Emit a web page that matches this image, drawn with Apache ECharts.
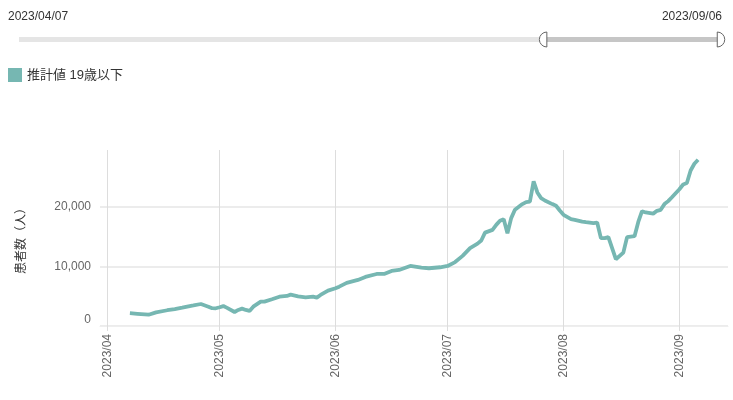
<!DOCTYPE html>
<html>
<head>
<meta charset="utf-8">
<script src="https://cdn.jsdelivr.net/npm/echarts@6/dist/echarts.min.js"></script>
<style>html,body{margin:0;padding:0;background:#fff;}#c{width:733px;height:400px;}</style>
</head>
<body>
<div id="c"></div>
<script>
const seriesName = '推計値 19歳以下';
const yAxisName = '患者数（人）';
const dates = [
  '2023-04-07','2023-04-09','2023-04-11','2023-04-12','2023-04-14','2023-04-17','2023-04-19','2023-04-21','2023-04-23','2023-04-24',
  '2023-04-26','2023-04-28','2023-04-29','2023-04-30','2023-05-01','2023-05-02','2023-05-03','2023-05-05','2023-05-06','2023-05-07',
  '2023-05-08','2023-05-09','2023-05-10','2023-05-12','2023-05-13','2023-05-15','2023-05-17','2023-05-19','2023-05-20','2023-05-22',
  '2023-05-24','2023-05-26','2023-05-27','2023-05-28','2023-05-30','2023-06-01','2023-06-02','2023-06-04','2023-06-07','2023-06-09',
  '2023-06-12','2023-06-14','2023-06-16','2023-06-18','2023-06-21','2023-06-24','2023-06-26','2023-06-29','2023-07-01','2023-07-03',
  '2023-07-05','2023-07-07','2023-07-09','2023-07-10','2023-07-11','2023-07-13','2023-07-14','2023-07-15','2023-07-16','2023-07-17',
  '2023-07-18','2023-07-19','2023-07-21','2023-07-22','2023-07-23','2023-07-24','2023-07-25','2023-07-26','2023-07-27','2023-07-29',
  '2023-07-30','2023-07-31','2023-08-01','2023-08-03','2023-08-04','2023-08-06','2023-08-07','2023-08-09','2023-08-10','2023-08-11',
  '2023-08-12','2023-08-13','2023-08-14','2023-08-15','2023-08-17','2023-08-18','2023-08-19','2023-08-20','2023-08-21','2023-08-22',
  '2023-08-23','2023-08-25','2023-08-26','2023-08-27','2023-08-28','2023-08-29','2023-08-30','2023-09-01','2023-09-02','2023-09-03',
  '2023-09-04','2023-09-05','2023-09-06'
];
const values = [
  2150,2050,1950,1900,2300,2650,2850,3080,3350,3450,
  3700,3250,3000,2980,3150,3350,3050,2360,2700,2920,
  2700,2530,3250,4100,4100,4490,4930,5050,5270,5000,
  4830,4930,4770,5220,5950,6350,6620,7250,7750,8250,
  8750,8750,9260,9430,10100,9820,9710,9880,10100,10750,
  11800,13090,13850,14380,15700,16170,17010,17700,17970,15610,
  18140,19540,20500,20840,20900,24310,22460,21510,21110,20500,
  20220,19430,18700,17970,17850,17560,17460,17300,17400,14770,
  14770,14940,13090,11230,12340,14940,15040,15100,17500,19300,
  19090,18900,19370,19540,20500,21000,21650,23000,23800,24040,
  26160,27290,27970
];
const xRange = ['2023-03-30', '2023-09-14'];
const zoomAxisRange = ['2022-01-20', '2023-09-06'];
const zoomWindow = ['2023-04-07', '2023-09-06'];
const yTicks = { min: 0, max: 29600, interval: 10000 };

const FONT = "'Liberation Sans', Arial, 'Noto Sans CJK JP', sans-serif";
const chart = echarts.init(document.getElementById('c'), null, { renderer: 'canvas' });
const fmtDay = v => { const d = new Date(v); return d.getFullYear() + '/' + String(d.getMonth()+1).padStart(2,'0') + '/' + String(d.getDate()).padStart(2,'0'); };

chart.setOption({
  animation: false,
  textStyle: { fontFamily: FONT },
  color: ['#76b7b2'],
  legend: {
    left: 3, top: 63, itemWidth: 14, itemHeight: 14, icon: 'rect', itemGap: 10,
    textStyle: { fontSize: 13, color: '#333', fontFamily: FONT }
  },
  graphic: [
    { type: 'text', left: 8, top: 11, style: { text: fmtDay(zoomWindow[0]), fontSize: 12, fill: '#333', fontFamily: FONT } },
    { type: 'text', right: 11, top: 11, style: { text: fmtDay(zoomWindow[1]), fontSize: 12, fill: '#333', fontFamily: FONT } }
  ],
  grid: { left: 100, right: 5, top: 150, bottom: 74 },
  dataZoom: [{
    type: 'slider', xAxisIndex: 1, filterMode: 'none',
    startValue: zoomWindow[0], endValue: zoomWindow[1],
    left: 18, right: 12, top: 37, height: 5,
    showDetail: false, showDataShadow: false, brushSelect: false,
    borderColor: 'transparent', backgroundColor: '#e5e5e5', fillerColor: '#c6c6c6',
    moveHandleSize: 0,
    handleIcon: 'path://M10,0 A10,10 0 0 0 10,20 Z',
    handleSize: 15,
    handleStyle: { color: '#fff', borderColor: '#666', borderWidth: 1 },
    emphasis: { handleStyle: { borderColor: '#666' } }
  }],
  xAxis: [{
    type: 'time', min: xRange[0], max: xRange[1],
    minInterval: 28 * 24 * 3600 * 1000,
    axisLine: { show: true, lineStyle: { color: '#eeeeee' } },
    axisTick: { show: true, length: 5, lineStyle: { color: '#dddddd' } },
    splitLine: { show: true, lineStyle: { color: '#dddddd' }, showMinLine: false, showMaxLine: false },
    axisLabel: {
      rotate: 90, fontSize: 12, color: '#666', margin: 8, showMinLabel: false, showMaxLabel: false,
      formatter: v => { const d = new Date(v); return d.getFullYear() + '/' + String(d.getMonth()+1).padStart(2,'0'); }
    }
  }, {
    type: 'time', show: false, min: zoomAxisRange[0], max: zoomAxisRange[1], gridIndex: 0
  }],
  yAxis: {
    type: 'value', min: yTicks.min, max: yTicks.max, interval: yTicks.interval,
    name: yAxisName, nameLocation: 'middle', nameGap: 72, nameRotate: 90,
    nameTextStyle: { fontSize: 12, color: '#333', fontFamily: FONT },
    axisLine: { show: false }, axisTick: { show: false },
    splitLine: { show: true, lineStyle: { color: '#e6e6e6', width: 1.5 }, showMaxLine: false },
    axisLabel: { fontSize: 12, color: '#666', margin: 9, showMaxLabel: false, verticalAlignMinLabel: 'bottom' }
  },
  series: [{
    name: seriesName, type: 'line', xAxisIndex: 0,
    data: dates.map((d, i) => [d, values[i]]),
    showSymbol: false, symbol: 'none',
    lineStyle: { width: 3.8, color: '#76b7b2' },
    itemStyle: { color: '#76b7b2' }
  }]
});

// mirror the end handle of the slider so it bulges outward like the reference
try {
  (chart._componentsViews || []).forEach(v => {
    if (v && v.type === 'dataZoom.slider' && v._displayables && v._displayables.handles) {
      const h = v._displayables.handles[1];
      if (h) { h.scaleX = -Math.abs(h.scaleX); h.markRedraw && h.markRedraw(); }
    }
  });
  chart.getZr().refreshImmediately();
} catch (e) {}
</script>
</body>
</html>
